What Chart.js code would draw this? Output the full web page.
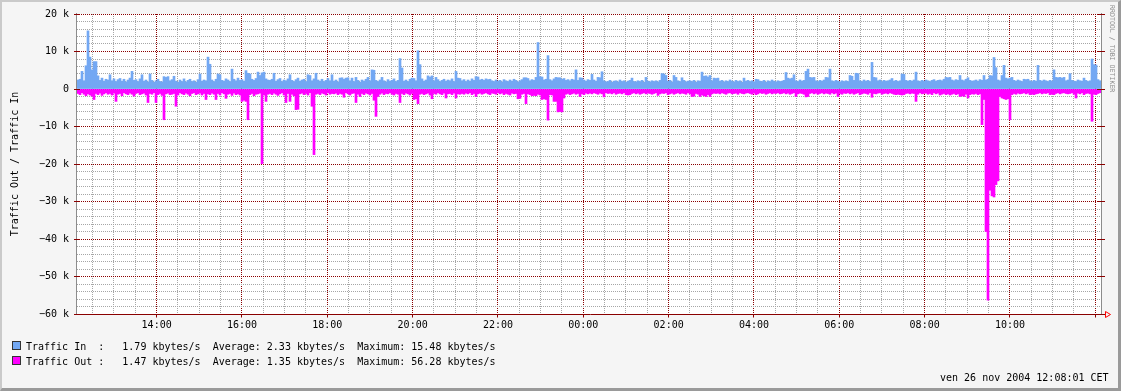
<!DOCTYPE html>
<html><head><meta charset="utf-8">
<script src="https://cdn.jsdelivr.net/npm/chart.js@4/dist/chart.umd.min.js"></script>
<style>
html,body{margin:0;padding:0;}
body{width:1121px;height:391px;background:#f5f5f5;position:relative;overflow:hidden;font-family:"DejaVu Sans Mono",monospace;font-size:10px;color:#000;}
#c{position:absolute;left:0;top:0;}
#frame{position:absolute;left:0;top:0;width:1121px;height:391px;box-sizing:border-box;border-style:solid;border-width:2px 3px 3px 2px;border-color:#cacaca #9a9a9a #9a9a9a #cacaca;pointer-events:none;}
.leg{position:absolute;left:26px;white-space:pre;line-height:12px;height:12px;}
.box{position:absolute;left:12px;width:7px;height:7px;border:1px solid #333;}
#date{position:absolute;left:940px;top:372px;white-space:pre;line-height:12px;}
#sig{position:absolute;left:1107px;top:5px;writing-mode:vertical-rl;font-size:6.6px;line-height:9px;color:#8c8c8c;white-space:pre;}
</style></head><body>
<canvas id="c" width="1121" height="391"></canvas>
<div class="box" style="top:341px;background:#73a8f3"></div>
<div class="leg" id="l1" style="top:341px"></div>
<div class="box" style="top:356px;background:#ff00ff"></div>
<div class="leg" id="l2" style="top:356px"></div>
<div id="date"></div>
<div id="sig"></div>
<div id="frame"></div>
<script>
// ---- data (kbytes/s), 512 bins of 2.8125 min from 12:08 to 12:08 next day ----
const startMinute = 12 * 60 + 8;
const spanMinutes = 1440;
const trafficIn = [
2.4,2.6,4.7,2.2,6.2,15.5,8.5,5.1,7.3,7.3,3.5,2.3,2.9,2.1,2.6,2.4,3.8,2.2,2.7,2.0,2.5,2.8,2.1,2.6,1.9,2.4,2.9,4.7,2.3,2.5,2.0,2.7,
3.8,2.1,2.4,1.9,4.0,2.3,1.8,2.2,2.6,2.0,1.9,3.3,3.1,3.3,2.2,2.5,3.4,2.1,1.8,2.4,2.0,2.7,1.9,2.3,2.6,2.0,2.2,1.8,2.5,4.0,2.1,2.4,
2.2,8.5,6.6,2.4,2.0,2.6,4.0,3.8,2.3,2.1,2.7,2.4,2.0,5.3,2.6,2.2,2.9,2.3,2.5,2.1,4.9,4.2,4.0,2.6,2.3,2.8,4.5,3.6,4.3,4.5,2.7,2.4,
2.3,2.6,4.2,2.1,2.5,2.8,2.0,2.4,2.2,2.7,3.8,2.3,2.0,2.5,2.9,2.1,2.4,2.6,2.0,3.8,3.6,2.2,2.7,4.2,2.4,2.1,2.6,2.0,2.3,2.8,2.2,3.8,
2.1,2.4,1.9,2.9,3.0,2.6,2.9,3.0,2.2,2.9,2.0,3.1,2.3,1.8,2.4,2.1,2.6,3.1,2.2,5.1,5.0,2.3,2.0,2.4,3.1,2.2,1.9,2.5,2.1,2.3,2.7,2.0,
2.3,8.1,5.6,2.1,2.4,2.0,2.6,2.9,2.8,2.2,10.2,6.5,2.7,2.1,2.4,3.5,3.2,3.5,2.2,3.1,2.5,2.0,2.3,2.6,2.1,2.4,2.2,2.7,2.0,4.7,2.9,2.8,
2.2,2.5,2.0,2.4,2.1,2.7,2.3,3.3,3.2,2.4,2.6,2.3,2.7,2.5,2.6,2.2,2.0,2.4,2.1,2.3,1.9,2.5,2.2,2.0,2.4,2.1,2.6,2.3,1.9,2.2,2.5,3.0,
3.0,2.8,2.2,2.5,2.3,3.1,12.4,3.3,3.2,2.4,2.6,8.9,2.5,2.2,2.7,3.1,3.0,3.0,2.6,2.8,2.3,2.5,2.2,2.6,2.4,5.1,2.3,3.0,2.9,2.4,2.1,2.5,
2.3,3.9,2.4,2.1,3.1,3.0,4.6,2.2,1.9,2.0,2.3,1.8,2.1,2.2,1.9,2.4,2.0,2.2,1.8,2.1,2.3,2.9,2.0,1.9,2.2,2.0,2.3,1.8,3.1,2.1,1.9,2.2,
2.0,2.2,1.9,2.3,4.1,4.0,3.6,2.1,2.3,1.9,3.6,3.1,2.2,2.0,3.0,2.3,1.9,2.1,2.2,2.0,2.3,1.8,2.2,2.1,4.5,3.4,3.5,3.2,3.6,2.2,2.9,2.8,
2.9,2.1,2.3,1.9,2.2,2.0,2.4,2.1,1.9,2.3,2.0,2.2,1.8,2.9,2.1,2.3,2.0,2.2,1.9,2.6,2.5,2.1,2.0,2.3,1.8,2.2,2.0,2.4,2.1,1.9,2.2,2.0,
2.1,2.3,4.4,2.9,2.7,2.9,3.8,2.2,2.0,2.4,2.1,2.3,4.7,5.3,3.1,3.0,3.1,2.2,2.0,2.3,2.1,2.4,3.1,3.0,5.3,2.2,2.0,2.3,2.1,1.9,2.2,2.0,
2.2,2.0,3.6,3.4,2.3,4.2,4.1,2.2,2.0,2.4,2.1,2.3,2.0,7.1,3.1,3.0,2.2,2.4,2.0,2.3,2.1,2.2,2.4,2.8,2.1,2.3,2.0,2.2,4.0,3.9,2.3,2.1,
2.3,2.1,2.4,4.5,2.2,2.0,2.3,2.1,2.4,2.2,2.0,2.3,2.5,2.1,2.3,2.4,2.2,2.6,3.1,3.0,3.1,2.4,2.2,2.5,2.3,3.6,2.4,2.2,2.6,3.0,2.3,2.1,
2.2,2.4,2.1,2.5,2.3,3.6,2.4,2.6,3.6,3.5,8.4,5.7,2.4,2.2,3.6,6.3,2.9,2.7,2.9,3.1,2.3,2.1,2.4,2.2,2.0,2.6,2.5,2.6,2.2,2.0,2.3,2.1,
6.3,2.3,2.1,2.4,2.2,2.0,2.3,2.1,5.1,3.1,3.0,3.1,2.9,3.1,2.2,2.4,4.1,2.3,2.1,2.0,2.4,2.2,2.1,2.9,2.3,2.0,2.2,8.0,6.5,6.4,2.5,2.2
];
const trafficOut = [
-1.2,-1.5,-1.0,-1.4,-1.8,-1.3,-1.6,-1.9,-2.8,-1.2,-1.5,-1.1,-1.7,-1.3,-1.0,-1.4,-1.2,-1.6,-1.1,-3.3,-1.4,-1.2,-1.8,-1.0,-1.3,-1.5,-1.1,-1.4,-1.9,-1.2,-1.0,-1.5,
-1.3,-1.1,-1.6,-3.6,-1.2,-1.4,-1.0,-3.6,-1.5,-1.2,-1.7,-8.2,-1.3,-1.1,-1.5,-1.4,-1.2,-4.6,-1.6,-1.0,-1.3,-1.5,-1.1,-1.4,-1.8,-1.2,-1.0,-1.5,-1.3,-1.1,-1.6,-1.2,
-2.8,-1.3,-1.5,-1.1,-1.4,-2.8,-1.2,-1.6,-1.0,-1.3,-2.5,-1.4,-1.2,-1.7,-1.1,-1.5,-1.3,-1.6,-3.3,-3.0,-3.3,-8.2,-1.5,-1.2,-1.8,-1.4,-1.3,-1.1,-19.9,-1.6,-3.3,-1.4,
-1.2,-1.5,-1.1,-1.4,-1.7,-1.3,-1.0,-1.6,-3.6,-1.2,-3.3,-1.4,-1.8,-5.5,-5.4,-1.3,-1.1,-1.5,-1.2,-1.6,-1.0,-4.6,-17.5,-1.4,-1.2,-1.5,-1.1,-1.3,-1.6,-1.0,-1.4,-1.2,
-1.3,-1.1,-1.5,-1.2,-1.4,-2.2,-1.0,-1.3,-1.6,-1.2,-1.1,-3.6,-1.4,-2.0,-1.2,-1.5,-1.1,-1.3,-1.6,-1.2,-3.0,-7.3,-2.0,-1.4,-1.1,-1.5,-1.2,-1.3,-1.0,-1.4,-1.6,-1.2,
-1.4,-3.6,-1.2,-1.5,-1.1,-1.3,-1.6,-1.2,-2.8,-2.6,-3.9,-1.4,-1.2,-1.5,-1.3,-1.1,-1.6,-2.6,-1.2,-1.4,-1.0,-1.3,-1.5,-1.1,-2.4,-1.3,-1.2,-1.5,-1.1,-2.4,-1.3,-1.4,
-1.2,-1.4,-1.1,-1.3,-1.0,-1.5,-1.2,-2.0,-1.3,-1.1,-1.4,-1.2,-1.0,-1.3,-1.5,-1.1,-1.2,-1.4,-1.0,-1.3,-1.1,-1.5,-1.2,-1.4,-1.6,-1.1,-1.3,-1.2,-2.6,-2.5,-1.4,-1.2,
-3.9,-1.3,-1.5,-1.8,-1.7,-1.8,-1.4,-1.6,-2.8,-2.6,-2.8,-8.3,-1.5,-1.6,-3.3,-3.3,-6.1,-6.0,-6.1,-2.4,-1.4,-1.2,-1.5,-1.3,-1.1,-1.4,-1.2,-2.0,-1.3,-1.5,-1.1,-1.3,
-1.1,-1.3,-1.0,-1.2,-1.4,-1.1,-1.3,-2.1,-1.0,-1.2,-1.1,-1.3,-1.0,-1.4,-1.2,-1.1,-1.3,-1.0,-1.5,-1.6,-1.5,-1.2,-1.0,-1.3,-1.1,-1.4,-1.2,-1.0,-1.3,-1.1,-1.2,-1.4,
-1.2,-1.0,-1.7,-1.3,-1.1,-1.2,-1.0,-1.5,-1.3,-1.1,-1.4,-1.2,-1.0,-1.3,-1.1,-1.2,-1.4,-1.0,-1.3,-2.0,-1.9,-1.2,-1.4,-2.0,-1.6,-1.8,-2.0,-1.5,-2.0,-1.3,-1.1,-1.2,
-1.1,-1.3,-1.0,-1.2,-1.4,-1.1,-1.0,-1.3,-1.2,-1.1,-1.4,-1.0,-1.2,-1.3,-1.1,-1.0,-1.2,-1.4,-1.1,-1.5,-1.3,-1.0,-1.2,-1.1,-1.4,-1.2,-1.0,-1.3,-1.1,-1.2,-1.0,-1.3,
-1.2,-1.0,-1.3,-1.1,-1.4,-1.2,-1.0,-2.0,-1.3,-1.1,-1.2,-1.4,-2.1,-2.0,-1.2,-1.0,-1.3,-1.1,-1.4,-1.2,-1.0,-1.3,-1.1,-1.2,-1.4,-1.0,-1.3,-1.1,-2.0,-1.2,-1.4,-1.1,
-1.2,-1.0,-1.3,-1.1,-1.4,-1.2,-1.0,-1.5,-1.3,-1.1,-1.2,-1.4,-1.0,-2.2,-1.2,-1.3,-1.1,-1.0,-1.4,-1.2,-1.1,-1.3,-1.0,-1.2,-1.4,-1.5,-1.4,-1.5,-1.6,-1.5,-1.2,-1.1,
-1.3,-1.1,-1.2,-3.3,-1.4,-1.0,-1.3,-1.2,-1.1,-1.4,-1.2,-1.5,-1.0,-1.3,-1.1,-1.6,-1.4,-1.2,-1.5,-1.3,-1.6,-1.4,-1.2,-1.5,-1.3,-2.0,-1.8,-2.0,-1.4,-2.4,-1.5,-1.3,
-1.4,-1.2,-1.5,-1.3,-9.5,-2.8,-38.0,-56.3,-27.0,-28.5,-28.8,-25.5,-24.5,-2.0,-2.4,-2.6,-2.8,-2.6,-8.2,-1.5,-1.2,-1.4,-1.1,-1.3,-1.2,-1.0,-1.3,-1.1,-1.5,-1.4,-1.5,-1.3,
-1.2,-1.0,-1.3,-1.1,-1.2,-1.0,-1.5,-1.4,-1.5,-1.2,-1.0,-1.3,-1.1,-1.0,-1.2,-1.3,-1.2,-1.0,-1.4,-2.4,-1.1,-1.3,-1.0,-1.5,-1.2,-1.1,-1.3,-8.6,-1.4,-1.5,-1.2,-1.0
];
const yMin = -60, yMax = 20, yMinorStep = 2, yMajorStep = 10;
const gridStepMinutes = 30, labelStepMinutes = 120;
const legendRows = [
  "Traffic In  :   1.79 kbytes/s  Average: 2.33 kbytes/s  Maximum: 15.48 kbytes/s",
  "Traffic Out :   1.47 kbytes/s  Average: 1.35 kbytes/s  Maximum: 56.28 kbytes/s"
];
const dateText = "ven 26 nov 2004 12:08:01 CET";
const yTitle = "Traffic Out / Traffic In";
const signature = "RRDTOOL / TOBI OETIKER";
const colIn = '#73a8f3', colOut = '#ff00ff';
const majorCol = '#8a0000', minorCol = '#a6a6a6';

document.getElementById('l1').textContent = legendRows[0];
document.getElementById('l2').textContent = legendRows[1];
document.getElementById('date').textContent = dateText;
document.getElementById('sig').textContent = signature;

const binMinutes = spanMinutes / trafficIn.length;
const pad2 = n => String(n).padStart(2, '0');
const hhmm = m => pad2(Math.floor(m / 60) % 24) + ':' + pad2(Math.floor(m % 60));
const binLabels = trafficIn.map((_, i) => hhmm(startMinute + i * binMinutes));

const yTickVals = [];
for (let v = yMin; v <= yMax; v += yMinorStep) yTickVals.push(v);
const tTickVals = [];
for (let m = Math.ceil(startMinute / gridStepMinutes) * gridStepMinutes; m <= startMinute + spanMinutes; m += gridStepMinutes) tTickVals.push(m);
const isMajorT = v => v % labelStepMinutes === 0;
const lastT = startMinute + spanMinutes;
const tickVal = c => (c && c.tick) ? c.tick.value : NaN;

const FONT = {family: 'DejaVu Sans Mono', size: 10};

const deco = {
  id: 'deco',
  beforeDraw(chart) {
    const {ctx, chartArea: a} = chart;
    ctx.save();
    ctx.fillStyle = '#ffffff';
    ctx.fillRect(a.left, a.top, a.right - a.left, a.bottom - a.top + 1);
    ctx.restore();
  },
  afterDraw(chart) {
    const {ctx, chartArea: a} = chart;
    const y = chart.scales.y, t = chart.scales.t;
    const L = (x1, y1, x2, y2, c) => { ctx.strokeStyle = c; ctx.beginPath(); ctx.moveTo(x1, y1); ctx.lineTo(x2, y2); ctx.stroke(); };
    ctx.save();
    ctx.lineWidth = 1;
    ctx.setLineDash([]);
    L(a.left - 0.5, a.top - 1, a.left - 0.5, a.bottom + 1, '#8c8c8c');
    L(a.right + 0.5, a.top - 1, a.right + 0.5, a.bottom + 1, '#8c8c8c');
    yTickVals.filter(v => v % yMajorStep === 0).forEach(v => {
      const py = Math.round(y.getPixelForValue(v) - 0.5) + 0.5;
      L(a.left - 3, py, a.left + 3, py, majorCol);
      L(a.right - 4, py, a.right + 4, py, majorCol);
    });
    const by = Math.round(y.getPixelForValue(yMin) - 0.5) + 0.5;
    L(a.left - 1, by, a.right + 4, by, majorCol);
    tTickVals.filter(isMajorT).forEach(v => {
      const px = Math.round(t.getPixelForValue(v) - 0.5) + 0.5;
      L(px, by, px, by + 3, majorCol);
    });
    ctx.strokeStyle = '#ff0000';
    ctx.beginPath();
    ctx.moveTo(a.right + 4.5, by - 3); ctx.lineTo(a.right + 4.5, by + 3); ctx.lineTo(a.right + 9.5, by); ctx.closePath();
    ctx.stroke();
    ctx.restore();
  }
};

Chart.defaults.font.family = FONT.family;
Chart.defaults.font.size = FONT.size;
Chart.defaults.color = '#000';

new Chart(document.getElementById('c'), {
  type: 'bar',
  data: {
    labels: binLabels,
    datasets: [
      {label: 'Traffic In', data: trafficIn, backgroundColor: colIn, borderWidth: 0, barPercentage: 1, categoryPercentage: 1},
      {label: 'Traffic Out', data: trafficOut, backgroundColor: colOut, borderWidth: 0, barPercentage: 1, categoryPercentage: 1}
    ]
  },
  options: {
    responsive: false,
    animation: false,
    devicePixelRatio: 1,
    layout: {padding: {left: 4, top: 14, right: 20, bottom: 0}},
    plugins: {legend: {display: false}, tooltip: {enabled: false}},
    scales: {
      x: {type: 'category', stacked: true, display: false},
      t: {
        type: 'linear', position: 'bottom', axis: 'x', offset: false,
        min: startMinute, max: lastT,
        afterBuildTicks: s => { s.ticks = tTickVals.map(v => ({value: v})); },
        afterFit: s => { s.height = 77; },
        ticks: {
          autoSkip: false, maxRotation: 0, padding: 5, font: FONT, color: '#000',
          callback: v => (isMajorT(v) && v < lastT - 30) ? hhmm(v) : ''
        },
        grid: {offset: false, drawTicks: false, lineWidth: 1, color: c => isMajorT(tickVal(c)) ? majorCol : minorCol},
        border: {display: false, dash: [1, 1]}
      },
      y: {
        type: 'linear', min: yMin, max: yMax,
        afterBuildTicks: s => { s.ticks = yTickVals.map(v => ({value: v})); },
        afterFit: s => { s.width = 73; },
        ticks: {
          autoSkip: false, padding: 8, font: FONT, color: '#000',
          callback: v => v % yMajorStep !== 0 ? '' : (v === 0 ? '0' : (v < 0 ? '\u2212' : '') + Math.abs(v) + ' k')
        },
        grid: {drawTicks: false, lineWidth: 1, color: c => (tickVal(c) % yMajorStep === 0) ? majorCol : minorCol},
        border: {display: false, dash: [1, 1]},
        title: {display: true, text: yTitle, font: FONT, color: '#000', padding: {top: 5, bottom: 0}}
      }
    }
  },
  plugins: [deco]
});
</script>
</body></html>
